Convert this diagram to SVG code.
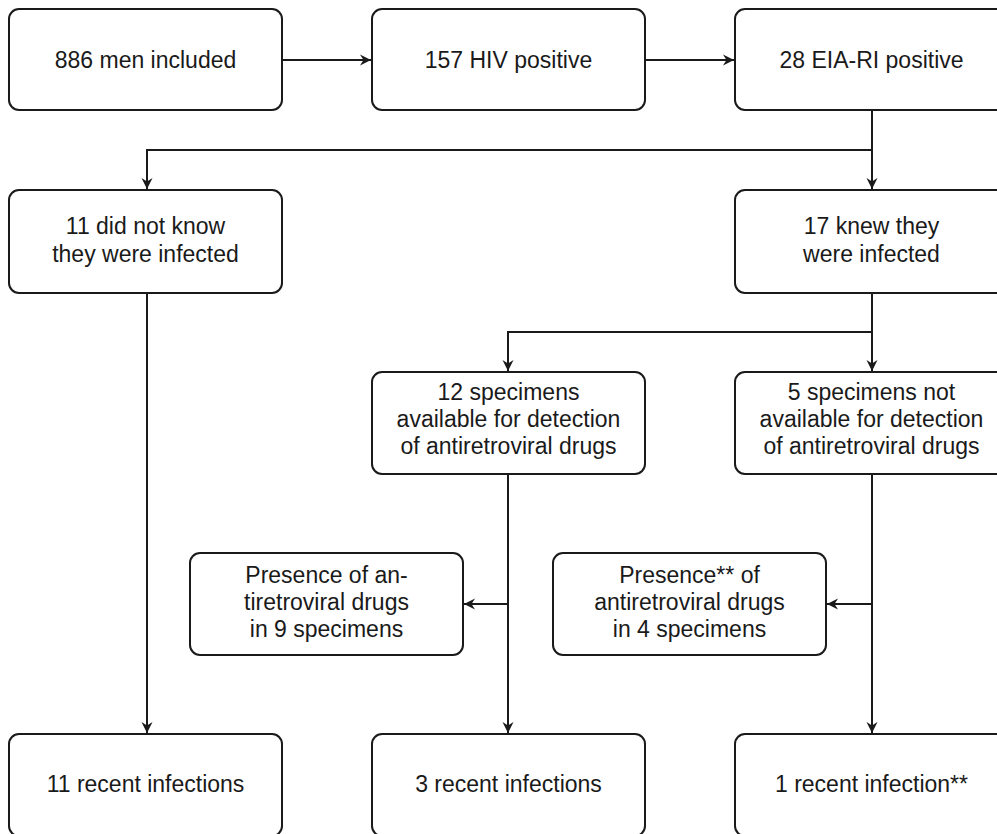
<svg xmlns="http://www.w3.org/2000/svg" width="997" height="834" viewBox="0 0 997 834">
<style>
.box{fill:#fff;stroke:#1a1a1a;stroke-width:2}
.t{font-family:"Liberation Sans",Arial,sans-serif;font-size:23px;fill:#1a1a1a;text-anchor:middle}
.c{fill:none;stroke:#1a1a1a;stroke-width:2}
</style>
<defs>
<marker id="arr" markerUnits="userSpaceOnUse" markerWidth="14" markerHeight="12" refX="11" refY="6" orient="auto">
<path d="M0,0.5 L11,6 L0,11.5 L3.5,6 z" fill="#1a1a1a"/>
</marker>
</defs>
<rect width="997" height="834" fill="#fff"/>
<g id="connectors">
<path class="c" d="M282,60 H371" marker-end="url(#arr)"/>
<path class="c" d="M645,60 H734" marker-end="url(#arr)"/>
<path class="c" d="M872,110 V189" marker-end="url(#arr)"/>
<path class="c" d="M872,150 H147 V189" marker-end="url(#arr)"/>
<path class="c" d="M147,293 V733" marker-end="url(#arr)"/>
<path class="c" d="M872,293 V371" marker-end="url(#arr)"/>
<path class="c" d="M872,332 H508 V371" marker-end="url(#arr)"/>
<path class="c" d="M508,474 V733" marker-end="url(#arr)"/>
<path class="c" d="M508,604 H464" marker-end="url(#arr)"/>
<path class="c" d="M872,474 V733" marker-end="url(#arr)"/>
<path class="c" d="M872,604 H827" marker-end="url(#arr)"/>
</g>
<g id="n1"><rect class="box" x="9" y="9" width="273" height="101" rx="10"/><text class="t" x="145.5" y="68">886 men included</text></g>
<g id="n2"><rect class="box" x="372" y="9" width="273" height="101" rx="10"/><text class="t" x="508.5" y="68">157 HIV positive</text></g>
<g id="n3"><rect class="box" x="735" y="9" width="273" height="101" rx="10"/><text class="t" x="871.5" y="68">28 EIA-RI positive</text></g>
<g id="n4"><rect class="box" x="9" y="190" width="273" height="103" rx="10"/><text class="t" x="145.5" y="234">11 did not know</text><text class="t" x="145.5" y="261.5">they were infected</text></g>
<g id="n5"><rect class="box" x="735" y="190" width="273" height="103" rx="10"/><text class="t" x="871.5" y="234">17 knew they</text><text class="t" x="871.5" y="261.5">were infected</text></g>
<g id="n6"><rect class="box" x="372" y="372" width="273" height="102" rx="10"/><text class="t" x="508.5" y="399.5">12 specimens</text><text class="t" x="508.5" y="426.5">available for detection</text><text class="t" x="508.5" y="453.5">of antiretroviral drugs</text></g>
<g id="n7"><rect class="box" x="735" y="372" width="273" height="102" rx="10"/><text class="t" x="871.5" y="399.5">5 specimens not</text><text class="t" x="871.5" y="426.5">available for detection</text><text class="t" x="871.5" y="453.5">of antiretroviral drugs</text></g>
<g id="n8"><rect class="box" x="190" y="553" width="273" height="102" rx="10"/><text class="t" x="326.5" y="582.5">Presence of an-</text><text class="t" x="326.5" y="609.5">tiretroviral drugs</text><text class="t" x="326.5" y="636.5">in 9 specimens</text></g>
<g id="n9"><rect class="box" x="553" y="553" width="273" height="102" rx="10"/><text class="t" x="689.5" y="582.5">Presence** of</text><text class="t" x="689.5" y="609.5">antiretroviral drugs</text><text class="t" x="689.5" y="636.5">in 4 specimens</text></g>
<g id="n10"><rect class="box" x="9" y="734" width="273" height="102" rx="10"/><text class="t" x="145.5" y="792">11 recent infections</text></g>
<g id="n11"><rect class="box" x="372" y="734" width="273" height="102" rx="10"/><text class="t" x="508.5" y="792">3 recent infections</text></g>
<g id="n12"><rect class="box" x="735" y="734" width="273" height="102" rx="10"/><text class="t" x="871.5" y="792">1 recent infection**</text></g>
</svg>
